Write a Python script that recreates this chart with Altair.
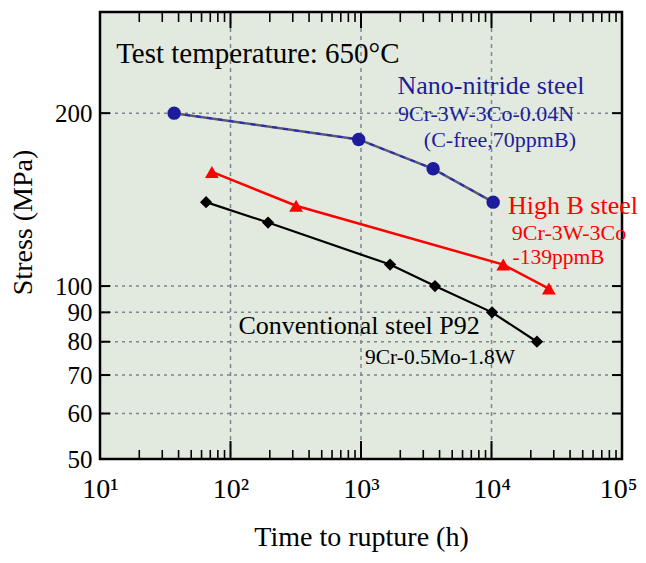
import altair as alt
import pandas as pd

# ---------------- data ----------------
nano_time = [37, 960, 3570, 10300]
nano_stress = [200, 180, 160, 140]

highb_time = [72, 318, 12300, 27500]
highb_stress = [158, 138, 109, 99]

p92_time = [65, 194, 1670, 3690, 10100, 22300]
p92_stress = [140, 129, 109, 100, 90, 80]

x_tick_values = [10, 100, 1000, 10000, 100000]
x_tick_labels = ["10¹", "10²", "10³", "10⁴", "10⁵"]
x_minor_ticks = [20, 30, 40, 50, 60, 70, 80, 90,
                 200, 300, 400, 500, 600, 700, 800, 900,
                 2000, 3000, 4000, 5000, 6000, 7000, 8000, 9000,
                 20000, 30000, 40000, 50000, 60000, 70000, 80000, 90000]
x_grid = [100, 1000, 10000]

y_tick_values = [50, 60, 70, 80, 90, 100, 200]
y_grid = [60, 70, 80, 90, 100, 200]

ann_text = ["Test temperature: 650°C",
            "Nano-nitride steel", "9Cr-3W-3Co-0.04N", "(C-free,70ppmB)",
            "High B steel", "9Cr-3W-3Co", "-139ppmB",
            "Conventional steel P92", "9Cr-0.5Mo-1.8W"]
ann_time = [162, 9900, 9080, 11600, 42100, 39300, 32600, 966, 4030]
ann_stress = [245, 215.8, 193.7, 174.5, 133.4, 120.2, 109.2, 82.5, 73.2]
ann_color = ["#000000", "#1e1e9a", "#1e1e9a", "#1e1e9a",
             "#ff0000", "#ff0000", "#ff0000", "#000000", "#000000"]
ann_size = [29, 26, 22, 22, 26, 22, 21.5, 26, 21.5]

# ---------------- build ----------------
W, H = 522, 447
FONT = "Liberation Serif"
BLUE = "#1c1c9c"
RED = "#ff0000"

xs = alt.Scale(type="log", domain=[10, 100000], nice=False)
ys = alt.Scale(type="log", domain=[50, 300], nice=False)

label_expr = " : ".join(
    f"datum.value == {v} ? '{l}'" for v, l in zip(x_tick_values, x_tick_labels)
) + " : ''"

nano = pd.DataFrame({"time": nano_time, "stress": nano_stress})
highb = pd.DataFrame({"time": highb_time, "stress": highb_stress})
p92 = pd.DataFrame({"time": p92_time, "stress": p92_stress})
ann = pd.DataFrame({"text": ann_text, "time": ann_time, "stress": ann_stress,
                    "color": ann_color, "size": ann_size})

x_axis = alt.Axis(values=x_tick_values, labelExpr=label_expr, title="Time to rupture (h)",
                  grid=False, ticks=False, domain=False, labelFont=FONT, labelFontSize=28,
                  labelColor="black", labelPadding=16, labelFlush=False, labelOverlap=False,
                  labelOffset={"condition": {"test": "datum.value == 100000", "value": -4},
                               "value": 0},
                  titleFont=FONT, titleFontSize=28, titleFontWeight="normal",
                  titleColor="black", titlePadding=20)
y_axis = alt.Axis(values=y_tick_values, format="d", title="Stress (MPa)",
                  grid=False, ticks=False, domain=False, labelFont=FONT, labelFontSize=25,
                  labelColor="black", labelPadding=8, labelOverlap=False, labelFlush=False,
                  titleFont=FONT, titleFontSize=28, titleFontWeight="normal",
                  titleColor="black", titleX=-69, titleY=210, titleBaseline="alphabetic")

def X(field="time"):
    return alt.X(f"{field}:Q", scale=xs, axis=x_axis)

def Y(field="stress"):
    return alt.Y(f"{field}:Q", scale=ys, axis=y_axis)

# grid lines
xg = alt.Chart(pd.DataFrame({"time": x_grid})).mark_rule(
    color="#7d8494", strokeWidth=1.5, strokeDash=[4, 4]).encode(x=X())
yg = alt.Chart(pd.DataFrame({"stress": y_grid})).mark_rule(
    color="#7d8494", strokeWidth=1.5, strokeDash=[3, 4]).encode(y=Y())

# ticks (inward)
major_df = pd.DataFrame({"time": x_tick_values})
minor_df = pd.DataFrame({"time": x_minor_ticks})
ytick_df = pd.DataFrame({"stress": y_grid})
tick_layers = [
    alt.Chart(major_df).mark_rule(color="black", strokeWidth=2).encode(
        x=X(), y=alt.value(H), y2=alt.value(H - 18)),
    alt.Chart(major_df).mark_rule(color="black", strokeWidth=2).encode(
        x=X(), y=alt.value(0), y2=alt.value(16)),
    alt.Chart(minor_df).mark_rule(color="black", strokeWidth=1.6).encode(
        x=X(), y=alt.value(H), y2=alt.value(H - 9)),
    alt.Chart(minor_df).mark_rule(color="black", strokeWidth=1.6).encode(
        x=X(), y=alt.value(0), y2=alt.value(10)),
    alt.Chart(ytick_df).mark_rule(color="black", strokeWidth=2).encode(
        y=Y(), x=alt.value(0), x2=alt.value(10)),
    alt.Chart(ytick_df).mark_rule(color="black", strokeWidth=2).encode(
        y=Y(), x=alt.value(W - 10), x2=alt.value(W)),
]

# series
nano_grey = alt.Chart(nano).mark_line(color="#5a5a70", strokeWidth=2.5).encode(x=X(), y=Y())
nano_dash = alt.Chart(nano).mark_line(color="#2a2ab8", strokeWidth=2, strokeDash=[5, 6]).encode(x=X(), y=Y())
nano_pts = alt.Chart(nano).mark_point(shape="circle", filled=True, size=180, color=BLUE,
                                      opacity=1).encode(x=X(), y=Y())
highb_line = alt.Chart(highb).mark_line(color=RED, strokeWidth=2.5).encode(x=X(), y=Y())
highb_pts = alt.Chart(highb).mark_point(shape="triangle-up", filled=True, size=190, color=RED,
                                        opacity=1).encode(x=X(), y=Y())
p92_line = alt.Chart(p92).mark_line(color="black", strokeWidth=2.2).encode(x=X(), y=Y())
p92_pts = alt.Chart(p92).mark_point(shape="diamond", filled=True, size=150, color="black",
                                    opacity=1).encode(x=X(), y=Y())

texts = alt.Chart(ann).mark_text(font=FONT, align="center", baseline="alphabetic").encode(
    x=X(), y=Y(), text="text:N",
    color=alt.Color("color:N", scale=None),
    size=alt.Size("size:Q", scale=None))

chart = alt.layer(
    xg, yg, *tick_layers,
    nano_grey, nano_dash, highb_line, p92_line,
    nano_pts, highb_pts, p92_pts, texts
).properties(
    width=W, height=H,
    autosize=alt.AutoSizeParams(type="none"),
    padding={"left": 92, "top": 4, "right": 16, "bottom": 96},
    background="white",
).configure_view(
    fill="#e2eadf", stroke="black", strokeWidth=2.5
)

chart.save("out.html", embed_options={"renderer": "svg", "actions": False})
